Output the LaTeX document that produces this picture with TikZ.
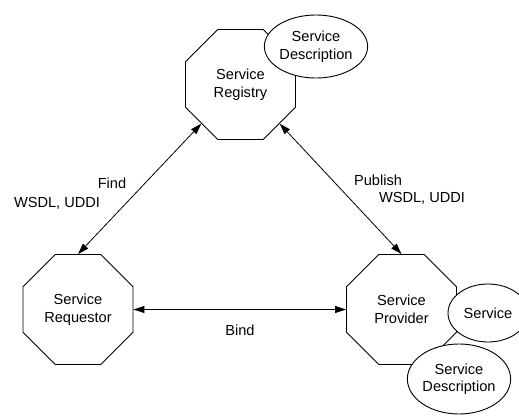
\documentclass[tikz,border=0pt]{standalone}
\usepackage{fontspec}
\setmainfont{Liberation Sans}
\usetikzlibrary{shapes.geometric,arrows.meta}

\tikzset{
  lbl/.style={font=\fontsize{14.6}{17.5}\selectfont, align=center, inner sep=0pt},
  octa/.style={lbl, draw, line width=0.9pt, fill=white, regular polygon, regular polygon sides=8,
               minimum size=119pt},
  oval/.style={lbl, draw, line width=0.9pt, fill=white, ellipse},
  link/.style={line width=0.8pt, {Triangle[length=11pt,width=7pt]}-{Triangle[length=11pt,width=7pt]}},
}

\begin{document}
\begin{tikzpicture}[x=1pt, y=-1pt]
  \clip (0,0) rectangle (519,415);

  % the three roles
  \node[octa] (reg)  at (240.5,84.5)  {Service\\Registry};
  \node[octa] (req)  at (78,309.5)    {Service\\Requestor};
  \node[octa] (prov) at (401.5,309.5) {Service\\Provider};

  % artefacts attached to the registry and the provider
  \node[oval, minimum width=101pt, minimum height=63pt] (regdesc) at (316,46.5) {Service\\Description};
  \node[oval, minimum width=80pt, minimum height=58pt] (svc) at (488,313) {Service};
  \node[oval, minimum width=102pt, minimum height=70pt] (provdesc) at (459,379) {Service\\Description};

  % interactions
  \draw[link] (req.north) -- (reg.225);
  \draw[link] (reg.-45) -- (prov.north);
  \draw[link] (req.east) -- (prov.west);

  % interaction labels
  \node[lbl] (find)    at (112,183) {Find};
  \node[lbl] (findp)   at (57,203)  {WSDL, UDDI};
  \node[lbl] (publish) at (378,180) {Publish};
  \node[lbl] (pubp)    at (422,198) {WSDL, UDDI};
  \node[lbl] (bind)    at (240,330) {Bind};
\end{tikzpicture}
\end{document}
